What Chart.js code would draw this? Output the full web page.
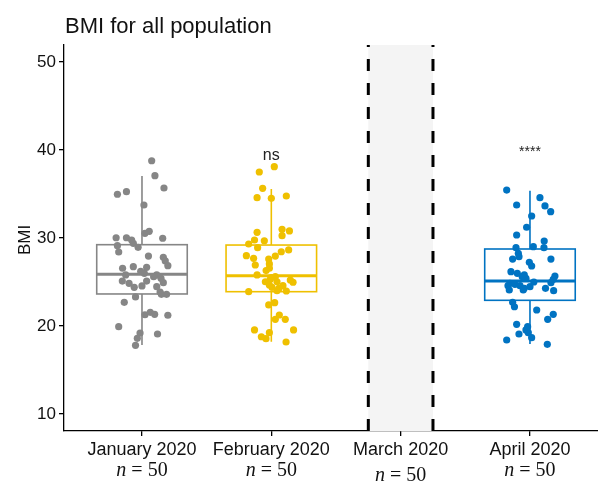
<!DOCTYPE html>
<html>
<head>
<meta charset="utf-8">
<script src="https://cdn.jsdelivr.net/npm/chart.js@4.4.1/dist/chart.umd.min.js"></script>
<style>
  body { margin: 0; background: #fff; }
  #wrap { width: 598px; height: 482px; position: relative; }
</style>
</head>
<body>
<div id="wrap"><canvas id="bmiChart"></canvas></div>
<script>
// categorias del eje x
const months = ['January 2020', 'February 2020', 'March 2020', 'April 2020'];
const counts = [50, 50, 50, 50];
const colors = ['#868686', '#EFC000', null, '#0073C2'];
const yTicks = [10, 20, 30, 40, 50];

// puntos (desplazamiento horizontal del jitter y valor de IMC)
const janOffset = [0.075, 0.10, -0.19, -0.12, 0.17, 0.015, 0.056, 0.023, -0.20, -0.12, -0.08, -0.067, 0.16, -0.19, -0.03, -0.18, 0.05, 0.165, 0.18, 0.20, -0.15, -0.067, 0.036, 0.018, -0.126, 0.114, 0.147, -0.152, 0.036, -0.10, 0.165, -0.06, 0, 0.114, 0.14, 0.15, 0.19, -0.05, -0.137, 0.023, 0.064, 0.098, 0.20, -0.18, -0.015, 0.12, -0.036, -0.05, -0.01, 0.09];
const janBMI = [38.78, 37.08, 34.97, 35.26, 35.68, 33.75, 30.76, 30.53, 30.03, 30.03, 29.77, 29.40, 29.97, 29.13, 28.94, 28.41, 27.95, 27.81, 27.39, 26.85, 26.56, 26.74, 26.67, 25.99, 25.80, 25.80, 25.42, 25.11, 25.11, 24.85, 24.92, 24.40, 24.55, 24.47, 23.86, 23.60, 23.60, 23.30, 22.69, 21.28, 21.56, 21.33, 21.22, 19.92, 19.20, 19.09, 18.60, 17.81, 26.2, 25.6];

const febOffset = [0.023, -0.093, -0.067, -0.11, 0, 0.116, -0.11, 0.083, 0.14, 0.083, -0.13, -0.054, -0.175, -0.106, 0.134, 0.077, 0.031, -0.193, -0.137, -0.02, -0.124, -0.015, -0.015, -0.11, 0.031, -0.008, -0.046, 0.044, 0.147, 0.168, -0.015, 0.005, 0.09, 0.044, 0.116, -0.175, -0.02, 0.026, 0.062, 0.031, 0.108, -0.13, -0.077, -0.041, -0.015, 0.172, 0.114, 0.0, -0.04, 0.06];
const febBMI = [38.10, 37.50, 35.65, 34.58, 34.51, 34.77, 30.65, 30.99, 30.80, 30.26, 29.77, 29.69, 29.32, 28.90, 28.64, 28.44, 27.95, 27.99, 27.69, 27.61, 26.93, 27.05, 26.56, 25.80, 25.60, 25.31, 25.03, 25.03, 25.23, 24.97, 24.66, 24.40, 24.58, 24.01, 23.98, 23.90, 22.39, 22.65, 21.25, 20.76, 20.76, 19.55, 18.78, 18.56, 19.24, 19.55, 18.18, 25.5, 26.3, 24.3];

const aprOffset = [-0.18, 0.077, -0.103, 0.116, 0.16, 0.013, -0.026, -0.103, 0.11, -0.108, 0.026, 0.108, -0.09, -0.134, -0.085, 0.162, -0.005, 0.013, -0.147, -0.098, -0.044, -0.031, 0.193, 0.18, -0.155, -0.116, -0.077, 0, -0.044, -0.17, -0.16, -0.052, 0.12, 0.162, 0.183, -0.134, -0.12, 0.052, 0.18, 0.137, -0.103, -0.018, -0.031, -0.013, -0.085, 0.013, -0.18, 0.134, 0.03, -0.06];
const aprBMI = [35.45, 34.58, 33.75, 33.64, 32.99, 32.50, 31.22, 30.34, 29.66, 28.90, 29.01, 28.90, 28.26, 27.61, 27.88, 27.61, 27.24, 26.82, 26.17, 25.99, 25.80, 25.42, 25.68, 25.31, 24.85, 24.74, 24.58, 24.47, 24.28, 24.58, 24.09, 24.09, 24.28, 24.92, 24.01, 22.69, 22.19, 21.82, 21.33, 20.76, 20.19, 19.92, 19.55, 19.24, 19.09, 18.67, 18.41, 17.92, 25.0, 25.6];

// estadisticos de las cajas (marzo sin datos)
const boxQ1 = [23.64, 23.90, null, 22.92];
const boxMed = [25.88, 25.72, null, 25.11];
const boxQ3 = [29.24, 29.20, null, 28.75];
const whiskLo = [17.84, 18.20, null, 17.95];
const whiskHi = [37.05, 35.57, null, 35.38];

// etiquetas de significancia
const sigLabels = ['', 'ns', '', '****'];
const sigY = [null, 39.4, null, 39.8];

// franja de marzo
const bandFrom = 2.75;
const bandTo = 3.25;
const boxHalf = 0.35;

function makePoints(cat, offs, vals) {
  return vals.map((v, i) => ({ x: cat + offs[i], y: v }));
}

const decor = {
  id: 'decor',
  beforeDatasetsDraw(chart) {
    const { ctx, chartArea: a, scales: { x, y } } = chart;
    ctx.save();
    // franja gris y lineas discontinuas
    const b0 = x.getPixelForValue(bandFrom), b1 = x.getPixelForValue(bandTo);
    ctx.fillStyle = '#f4f4f4';
    ctx.fillRect(b0, a.top, b1 - b0, a.bottom - a.top);
    ctx.strokeStyle = '#000';
    ctx.lineWidth = 3;
    ctx.setLineDash([12, 12]);
    [b0, b1].forEach(px => {
      ctx.beginPath();
      ctx.moveTo(px, a.bottom);
      ctx.lineTo(px, a.top);
      ctx.stroke();
    });
    ctx.setLineDash([]);

    // cajas
    boxMed.forEach((m, i) => {
      if (m === null) return;
      const c = i + 1;
      const xl = x.getPixelForValue(c - boxHalf);
      const xr = x.getPixelForValue(c + boxHalf);
      const xc = x.getPixelForValue(c);
      const yq1 = y.getPixelForValue(boxQ1[i]);
      const yq3 = y.getPixelForValue(boxQ3[i]);
      ctx.strokeStyle = colors[i];
      ctx.lineWidth = 1.6;
      ctx.beginPath();
      ctx.moveTo(xc, yq3); ctx.lineTo(xc, y.getPixelForValue(whiskHi[i]));
      ctx.moveTo(xc, yq1); ctx.lineTo(xc, y.getPixelForValue(whiskLo[i]));
      ctx.stroke();
      ctx.fillStyle = '#fff';
      ctx.fillRect(xl, yq3, xr - xl, yq1 - yq3);
      ctx.strokeRect(xl, yq3, xr - xl, yq1 - yq3);
      ctx.lineWidth = 3;
      const ym = y.getPixelForValue(m);
      ctx.beginPath();
      ctx.moveTo(xl, ym); ctx.lineTo(xr, ym);
      ctx.stroke();
    });
    ctx.restore();
  },
  afterDraw(chart) {
    const { ctx, scales: { x, y } } = chart;
    ctx.save();
    ctx.fillStyle = '#111';
    // titulo
    ctx.font = '22px "Liberation Sans", Arial, sans-serif';
    ctx.textAlign = 'left';
    ctx.textBaseline = 'alphabetic';
    ctx.fillText('BMI for all population', 65, 33);

    // titulo del eje y
    ctx.save();
    ctx.translate(25, 240);
    ctx.rotate(-Math.PI / 2);
    ctx.font = '17px "Liberation Sans", Arial, sans-serif';
    ctx.textAlign = 'center';
    ctx.textBaseline = 'middle';
    ctx.fillText('BMI', 0, 0);
    ctx.restore();

    // ns / ****
    ctx.textAlign = 'center';
    ctx.textBaseline = 'middle';
    sigLabels.forEach((s, i) => {
      if (!s) return;
      ctx.font = (s === 'ns' ? '16px' : '14px') + ' "Liberation Sans", Arial, sans-serif';
      ctx.fillStyle = '#222';
      ctx.fillText(s, x.getPixelForValue(i + 1), y.getPixelForValue(sigY[i]));
    });

    // n = 50
    ctx.fillStyle = '#111';
    ctx.textAlign = 'left';
    ctx.textBaseline = 'alphabetic';
    months.forEach((mo, i) => {
      const cx = x.getPixelForValue(i + 1);
      const base = i === 2 ? 481 : 476;
      const italic = 'italic 20px "Liberation Serif", "Times New Roman", serif';
      const normal = '20px "Liberation Serif", "Times New Roman", serif';
      const rest = ' = ' + counts[i];
      ctx.font = italic;
      const w1 = ctx.measureText('n').width;
      ctx.font = normal;
      const w2 = ctx.measureText(rest).width;
      const x0 = cx - (w1 + w2) / 2;
      ctx.font = italic;
      ctx.fillText('n', x0, base);
      ctx.font = normal;
      ctx.fillText(rest, x0 + w1, base);
    });
    ctx.restore();
  }
};

new Chart(document.getElementById('bmiChart'), {
  type: 'scatter',
  data: {
    datasets: [
      { data: makePoints(1, janOffset, janBMI), backgroundColor: colors[0] },
      { data: makePoints(2, febOffset, febBMI), backgroundColor: colors[1] },
      { data: makePoints(4, aprOffset, aprBMI), backgroundColor: colors[3] }
    ]
  },
  options: {
    responsive: true,
    maintainAspectRatio: false,
    animation: false,
    layout: { autoPadding: false, padding: { top: 45, right: 0, left: 0, bottom: 0 } },
    elements: { point: { radius: 3.6, borderWidth: 0, hoverRadius: 3.6 } },
    plugins: { legend: { display: false }, tooltip: { enabled: false } },
    scales: {
      x: {
        type: 'linear',
        min: 0.397,
        max: 4.526,
        afterFit(s) { s.height = 51; },
        afterBuildTicks(s) { s.ticks = months.map((m, i) => ({ value: i + 1 })); },
        grid: { drawOnChartArea: false, drawTicks: true, tickLength: 5, color: '#000', lineWidth: 1.3 },
        border: { display: true, color: '#000', width: 1.3 },
        ticks: {
          color: '#111',
          padding: 3,
          maxRotation: 0,
          autoSkip: false,
          font: { size: 18, family: '"Liberation Sans", Arial, sans-serif' },
          callback: (v, i) => months[i]
        }
      },
      y: {
        min: 8.07,
        max: 51.93,
        afterFit(s) { s.width = 64; },
        afterBuildTicks(s) { s.ticks = yTicks.map(v => ({ value: v })); },
        grid: { drawOnChartArea: false, drawTicks: true, tickLength: 5, color: '#000', lineWidth: 1.3 },
        border: { display: true, color: '#000', width: 1.3 },
        ticks: {
          color: '#111',
          padding: 3,
          font: { size: 17, family: '"Liberation Sans", Arial, sans-serif' }
        }
      }
    }
  },
  plugins: [decor]
});
</script>
</body>
</html>
